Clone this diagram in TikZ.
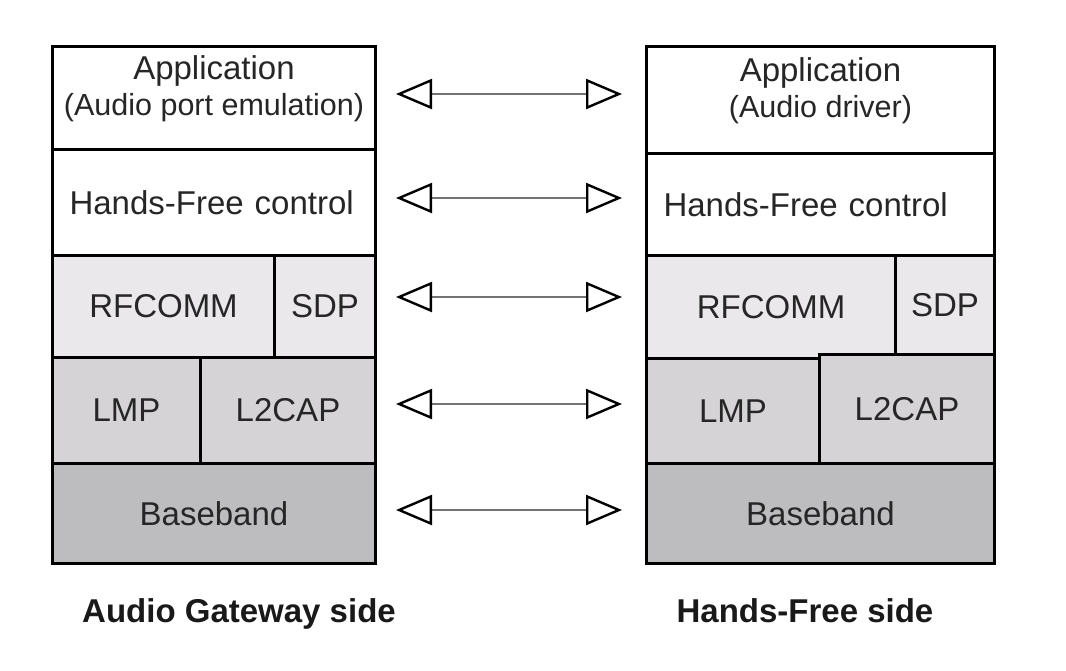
\documentclass[tikz,border=0pt]{standalone}
\usepackage{fontspec}
\setmainfont{Liberation Sans}
\usetikzlibrary{arrows.meta, positioning}
\definecolor{rfcgray}{HTML}{EAE8EB}
\definecolor{lmpgray}{HTML}{D5D3D6}
\definecolor{bbgray}{HTML}{BDBCBE}

\begin{document}
\begin{tikzpicture}[
        x=1pt, y=-1pt,
        layer/.style={rectangle, draw, line width=3pt, anchor=north west, inner sep=0pt, text=black!85, font=\fontsize{33}{35}\selectfont, align=center},
        leftlayer/.style={layer, align=left, inner xsep=17pt},
        applabel/.style={align=center, text=black!85, font=\fontsize{33}{34}\selectfont, yshift=9pt},
        sidelabel/.style={anchor=base, font=\fontsize{33}{35}\selectfont\bfseries, text=black!90},
        opentip/.tip={Triangle[open, length=36pt, width=30pt, line width=2.4pt, color=black]},
        link/.style={opentip-opentip, line width=1.6pt, draw=black!55}
    ]
    \useasboundingbox (0,0) rectangle (1066,670);

    % Audio Gateway stack
    \node[layer, fill=white, minimum width=323, minimum height=103,
        label={[applabel]center:Application\\[2pt]{\fontsize{30.5}{34}\selectfont(Audio port emulation)}}] (appL) at (51,45) {};
    \node[leftlayer, fill=white, text width=289, minimum height=106] (hfL) at (51,148) {Hands-Free control};
    \node[layer, fill=rfcgray, minimum width=222, minimum height=102] (rfcL) at (51,254) {RFCOMM};
    \node[layer, fill=rfcgray, minimum width=101, minimum height=102] (sdpL) at (273,254) {SDP};
    \node[layer, fill=lmpgray, minimum width=148, minimum height=106] (lmpL) at (51,356) {LMP};
    \node[layer, fill=lmpgray, minimum width=175, minimum height=106] (l2cL) at (199,356) {L2CAP};
    \node[layer, fill=bbgray, minimum width=323, minimum height=100] (bbL) at (51,462) {Baseband};

    % Hands-Free stack
    \node[layer, fill=white, minimum width=348, minimum height=107,
        label={[applabel]center:Application\\[2pt]{\fontsize{30.5}{34}\selectfont(Audio driver)}}] (appR) at (645,45) {};
    \node[leftlayer, fill=white, text width=314, minimum height=102] (hfR) at (645,152) {Hands-Free control};
    \node[layer, fill=rfcgray, minimum width=249, minimum height=103] (rfcR) at (645,254) {RFCOMM};
    \node[layer, fill=rfcgray, minimum width=99, minimum height=99] (sdpR) at (894,254) {SDP};
    \node[layer, fill=lmpgray, minimum width=173, minimum height=105] (lmpR) at (645,357) {LMP};
    \node[layer, fill=lmpgray, minimum width=175, minimum height=109] (l2cR) at (818,353) {L2CAP};
    \node[layer, fill=bbgray, minimum width=348, minimum height=100] (bbR) at (645,462) {Baseband};

    % peer links
    \foreach \y [count=\i] in {94,198,297,404,510} {
        \coordinate (lt\i) at (396,\y);
        \coordinate (rt\i) at (622,\y);
        \draw[link] (lt\i) -- (rt\i);
    }

    \node[sidelabel] (agside) at (239,622) {Audio Gateway side};
    \node[sidelabel] (hfside) at (805,622) {Hands-Free side};
\end{tikzpicture}
\end{document}
